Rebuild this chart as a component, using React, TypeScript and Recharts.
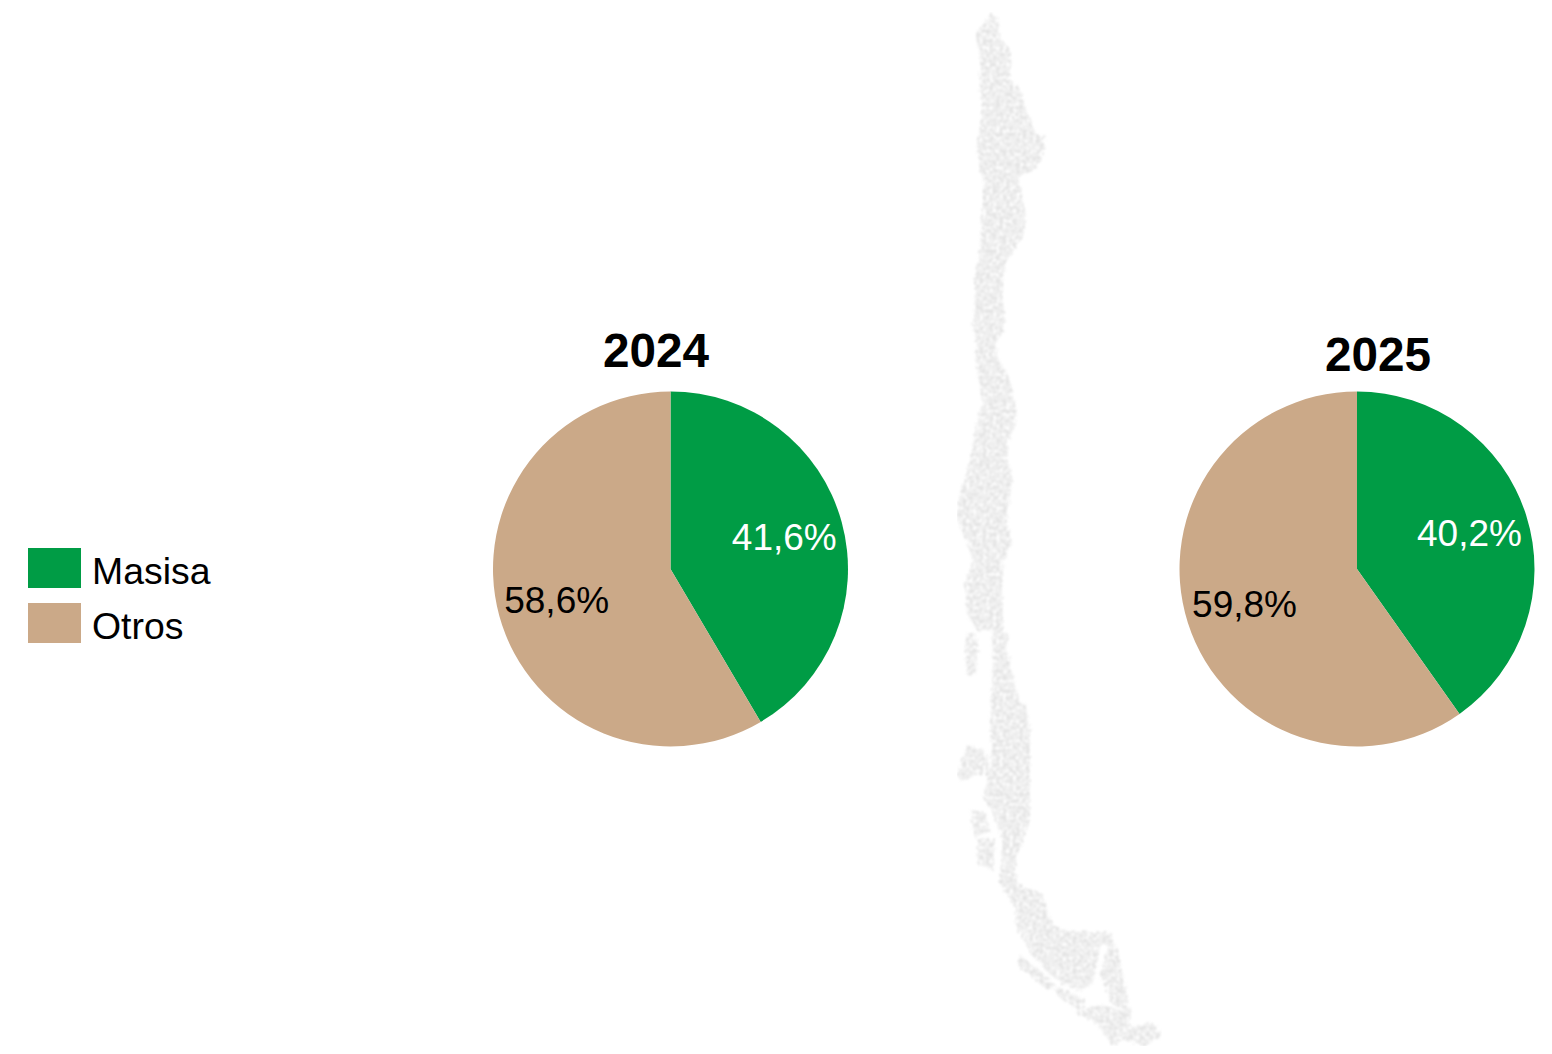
import { PieChart, Pie, Cell, Legend } from "recharts";

const categories = ["Masisa", "Otros"];
const values2024 = [41.6, 58.6];
const values2025 = [40.2, 59.8];
const years = ["2024", "2025"];

const COLORS = ["#009C45", "#CBA988"];
const LABEL_COLORS = ["#FFFFFF", "#000000"];
const FONT = "'Liberation Sans', Arial, sans-serif";
const RADIAN = Math.PI / 180;

const toRows = (values: number[]) =>
  categories.map((name, i) => ({ name, value: values[i] }));

// decorative silhouette behind the pies, not data
const MAP_SHAPES = [
  "M991,12 L998,22 1000,38 1010,50 1012,62 1009,78 1020,90 1025,108 1032,125 1036,135 1045,136 1045,150 1037,167 1022,176 1018,180 1022,195 1025,212 1024,235 1015,248 1006,262 1003,280 1003,300 1005,318 1002,335 995,345 997,358 1006,372 1012,390 1016,410 1016,425 1008,440 1008,462 1012,475 1010,495 1007,520 1012,543 1003,562 1002,585 1003,628 1008,636 1006,650 1012,670 1015,690 1022,705 1026,703 1030,730 1030,820 1022,845 1017,855 1015,870 1018,885 1040,892 1045,900 1050,920 1060,930 1110,933 1115,945 1100,945 1098,960 1092,985 1080,990 1065,985 1050,975 1030,952 1017,927 1015,907 1000,883 1000,867 1003,840 990,807 983,797 990,773 992,753 990,720 992,693 993,660 992,630 977,630 967,613 965,583 973,560 965,537 957,520 957,503 965,480 970,460 978,417 983,403 979,383 975,353 977,343 973,327 975,300 975,273 980,247 983,200 983,180 979,167 977,147 982,113 980,87 980,57 975,33 985,23 Z",
  "M965,635 L975,633 978,650 975,675 967,675 966,655 Z",
  "M967,745 L975,747 985,750 990,775 975,775 962,782 957,775 Z",
  "M970,810 L985,812 990,832 975,838 Z",
  "M977,838 L995,840 993,870 978,865 Z",
  "M1108,945 L1116,945 1125,985 1130,1012 1112,1005 1100,975 Z",
  "M1020,955 L1045,975 1060,990 1045,988 1018,965 Z",
  "M1075,1012 L1100,1005 1130,1012 1130,1027 1153,1023 1162,1035 1145,1046 1125,1040 1112,1045 1098,1025 Z",
  "M1055,985 L1085,1000 1082,1012 1060,998 Z",
];

function renderLabel(props: any) {
  const { cx, cy, midAngle, index, value } = props;
  const radius = 118;
  const x = cx + radius * Math.cos(-midAngle * RADIAN);
  const y = cy + radius * Math.sin(-midAngle * RADIAN);
  return (
    <text
      x={x}
      y={y}
      fill={LABEL_COLORS[index]}
      textAnchor="middle"
      dominantBaseline="central"
      fontFamily={FONT}
      fontSize={37}
    >
      {`${String(value).replace(".", ",")}%`}
    </text>
  );
}

function LegendBox() {
  return (
    <div style={{ position: "relative", width: 240, height: 110, fontFamily: FONT, fontSize: 37.4 }}>
      {categories.map((name, i) => (
        <div key={name}>
          <div
            style={{
              position: "absolute",
              left: 28,
              top: i * 55,
              width: 53,
              height: 40,
              background: COLORS[i],
            }}
          />
          <div style={{ position: "absolute", left: 92, top: i * 55 + 1, lineHeight: "44px", color: "#000" }}>
            {name}
          </div>
        </div>
      ))}
    </div>
  );
}

export default function App() {
  return (
    <div style={{ position: "absolute", left: 0, top: 0, width: 1552, height: 1054, background: "#fff" }}>
      <svg width={1552} height={1054} style={{ position: "absolute", left: 0, top: 0 }}>
        <defs>
          <filter id="speckle" x="0" y="0" width="100%" height="100%" colorInterpolationFilters="sRGB">
            <feTurbulence type="fractalNoise" baseFrequency="0.3" numOctaves={2} seed={4} result="noise" />
            <feDisplacementMap in="SourceGraphic" in2="noise" scale={7} xChannelSelector="R" yChannelSelector="G" result="rough" />
            <feColorMatrix
              in="noise"
              type="matrix"
              values="0 0 0 0 0.89  0 0 0 0 0.89  0 0 0 0 0.89  0 0 0 9 -4.7"
              result="spots"
            />
            <feComposite in="spots" in2="rough" operator="in" result="inner" />
            <feColorMatrix
              in="noise"
              type="matrix"
              values="0 0 0 0 1  0 0 0 0 1  0 0 0 0 1  0 0 0 -10 4.1"
              result="holes"
            />
            <feComposite in="holes" in2="rough" operator="in" result="gaps" />
            <feMerge result="merged">
              <feMergeNode in="rough" />
              <feMergeNode in="inner" />
              <feMergeNode in="gaps" />
            </feMerge>
            <feGaussianBlur in="merged" stdDeviation={0.9} />
          </filter>
        </defs>
        <g filter="url(#speckle)">
          {MAP_SHAPES.map((d) => (
            <path key={d} d={d} fill="#F1F1F1" />
          ))}
        </g>
      </svg>
      <div style={{ position: "absolute", left: 0, top: 0 }}>
        <PieChart width={1552} height={1054} margin={{ top: 0, right: 0, bottom: 0, left: 0 }}>
          <Pie
            data={toRows(values2024)}
            dataKey="value"
            nameKey="name"
            cx={670.5}
            cy={569}
            outerRadius={177.5}
            startAngle={90}
            endAngle={-270}
            stroke="none"
            label={renderLabel}
            labelLine={false}
            isAnimationActive={false}
          >
            {categories.map((name, i) => (
              <Cell key={name} fill={COLORS[i]} />
            ))}
          </Pie>
          <Pie
            data={toRows(values2025)}
            dataKey="value"
            nameKey="name"
            cx={1357}
            cy={569}
            outerRadius={177.5}
            startAngle={90}
            endAngle={-270}
            stroke="none"
            label={renderLabel}
            labelLine={false}
            isAnimationActive={false}
          >
            {categories.map((name, i) => (
              <Cell key={name} fill={COLORS[i]} />
            ))}
          </Pie>
          <Legend
            content={<LegendBox />}
            wrapperStyle={{ position: "absolute", left: 0, top: 548, width: 240, height: 110, bottom: "auto" }}
          />
          <text x={656} y={367} textAnchor="middle" fontFamily={FONT} fontSize={47.7} fontWeight="bold" fill="#000">
            {years[0]}
          </text>
          <text x={1378} y={371} textAnchor="middle" fontFamily={FONT} fontSize={47.7} fontWeight="bold" fill="#000">
            {years[1]}
          </text>
        </PieChart>
      </div>
    </div>
  );
}
